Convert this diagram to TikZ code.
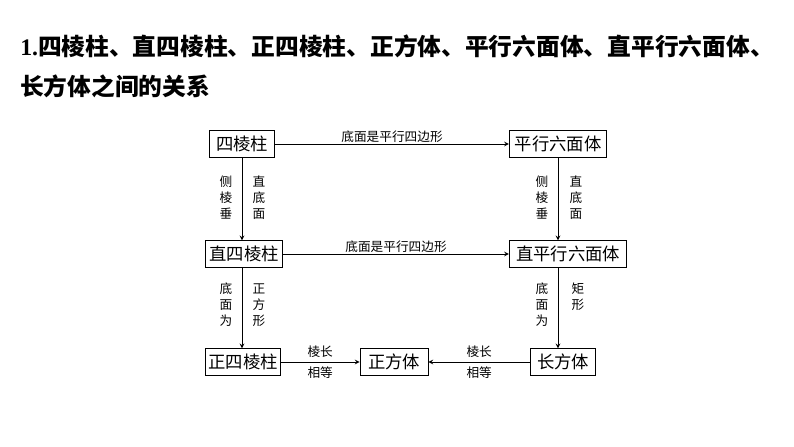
\documentclass[tikz,border=0pt]{standalone}
\usepackage{fontspec}
\setmainfont{Liberation Serif}
\newfontfamily\cjk{Noto Sans CJK SC}
\begin{document}
\begin{tikzpicture}[x=0.75pt,y=-0.75pt,
  box/.style={draw,line width=0.6pt,inner sep=0pt,minimum height=20pt,font=\cjk\fontsize{13}{15}\selectfont},
  lab/.style={font=\cjk\fontsize{9.5}{11}\selectfont,inner sep=1pt},
  vlab/.style={lab,align=center,font=\cjk\fontsize{9.5}{12}\selectfont},
  arr/.style={->,>=stealth,line width=0.6pt}]
\useasboundingbox (0,0) rectangle (794,447);
\node[anchor=west,font=\cjk\bfseries\fontsize{17.8}{20}\selectfont,inner sep=0] (t1) at (20,46) {{\rmfamily 1.}四棱柱、直四棱柱、正四棱柱、正方体、平行六面体、直平行六面体、};
\node[anchor=west,font=\cjk\bfseries\fontsize{17.8}{20}\selectfont,inner sep=0] (t2) at (20,86) {长方体之间的关系};
\node[box,minimum width=49pt] (a) at (242,144) {四棱柱};
\node[box,minimum width=73pt] (b) at (558,144) {平行六面体};
\node[box,minimum width=58pt] (c) at (244,254) {直四棱柱};
\node[box,minimum width=88pt] (d) at (568,254) {直平行六面体};
\node[box,minimum width=56pt] (e) at (243,362) {正四棱柱};
\node[box,minimum width=51pt] (f) at (394,362) {正方体};
\node[box,minimum width=49pt] (g) at (563,362) {长方体};
\draw[arr] (a) -- node[lab,above] {底面是平行四边形} (b);
\draw[arr] (c) -- node[lab,above] {底面是平行四边形} (d);
\draw[arr] (a.south) -- (a.south|-c.north);
\draw[arr] (c.south-|a.south) -- (a.south|-e.north);
\draw[arr] (b.south) -- (b.south|-d.north);
\draw[arr] (d.south-|b.south) -- (b.south|-g.north);
\node[vlab] (l1) at (226,198) {侧\\棱\\垂};
\node[vlab] (l2) at (259,198) {直\\底\\面};
\node[vlab] (l3) at (542,198) {侧\\棱\\垂};
\node[vlab] (l4) at (576,198) {直\\底\\面};
\node[vlab] (l5) at (226,305) {底\\面\\为};
\node[vlab] (l6) at (259,305) {正\\方\\形};
\node[vlab] (l7) at (542,305) {底\\面\\为};
\node[vlab] (l8) at (578,297) {矩\\形};
\draw[arr] (e) -- node[lab,above=2pt] {棱长} node[lab,below=2pt] {相等} (f);
\draw[arr] (g) -- node[lab,above=2pt] {棱长} node[lab,below=2pt] {相等} (f);
\end{tikzpicture}
\end{document}
